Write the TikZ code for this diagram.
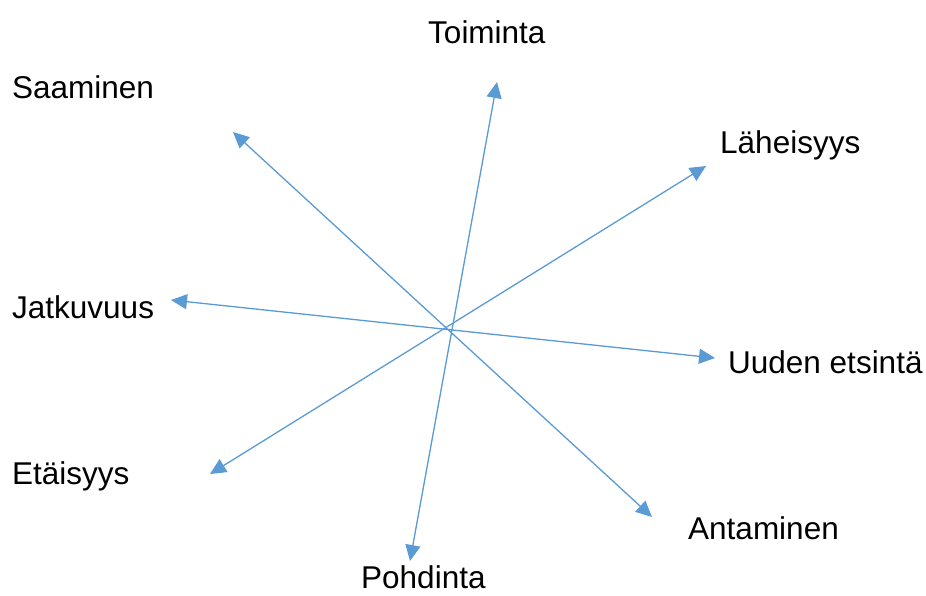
\documentclass[tikz,border=0pt]{standalone}
\usepackage{fontspec}
\setmainfont{Liberation Sans}
\usetikzlibrary{positioning, arrows.meta}
\definecolor{arrowblue}{HTML}{5B9BD5}

\begin{document}
\begin{tikzpicture}[x=1pt, y=-1pt, font=\fontsize{31.5}{36}\selectfont,
  >={Triangle[length=16pt, width=15pt]},
  word/.style={anchor=base west, inner sep=0pt},
  axis/.style={<->, draw=arrowblue, fill=arrowblue, line width=1.3pt}]
  \useasboundingbox (0,0) rectangle (926,595);
  % labels
  \node[word] (toim) at (428,43){Toiminta};
  \node[word] (saam) at (12,98){Saaminen};
  \node[word] (lah) at (720,153){Läheisyys};
  \node[word] (jatk) at (12,318){Jatkuvuus};
  \node[word] (uud) at (728,373){Uuden etsintä};
  \node[word] (eta) at (12,484){Etäisyys};
  \node[word] (ant) at (688,539){Antaminen};
  \node[word] (pohd) at (361,588){Pohdinta};
  % arrow ends
  \coordinate (toimEnd) at (497,82);
  \coordinate (pohdEnd) at (410,561);
  \coordinate (saamEnd) at (233,132);
  \coordinate (antEnd) at (652,517);
  \coordinate (lahEnd) at (706,166);
  \coordinate (etaEnd) at (210,474);
  \coordinate (jatkEnd) at (171,300);
  \coordinate (uudEnd) at (715,358);
  \draw[axis] (pohdEnd) -- (toimEnd);
  \draw[axis] (antEnd) -- (saamEnd);
  \draw[axis] (etaEnd) -- (lahEnd);
  \draw[axis] (uudEnd) -- (jatkEnd);
\end{tikzpicture}
\end{document}
